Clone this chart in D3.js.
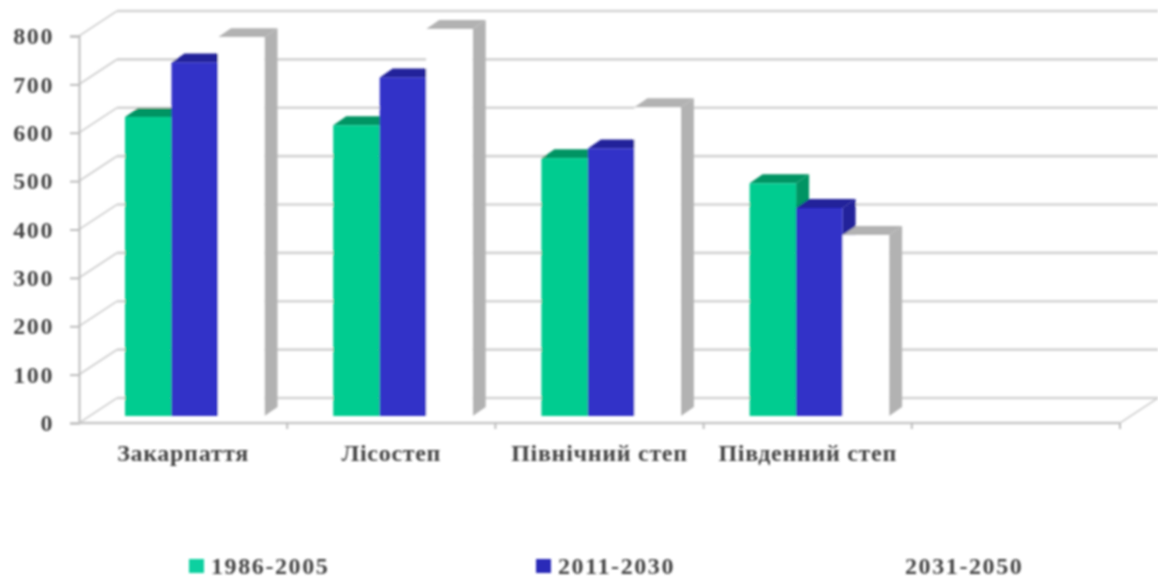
<!DOCTYPE html>
<html><head><meta charset="utf-8">
<script src="https://cdn.jsdelivr.net/npm/d3@7"></script>
<style>html,body{margin:0;background:#fff}svg{display:block}</style></head>
<body><svg id="c" width="1158" height="581"></svg>
<script>
const categories = ["Закарпаття","Лісостеп","Північний степ","Південний степ",""];
const s1986 = [618,601,533,481];
const s2011 = [731,700,553,430];
const s2031 = [783,800,638,374];
const seriesNames = ["1986-2005","2011-2030","2031-2050"];
const yTicks = [0,100,200,300,400,500,600,700,800];
const fronts = ["#00cc90","#3030c8","#ffffff"];
const darks  = ["#009464","#20209a","#b2b2b2"];
const legendColors = ["#10d0a0","#2a2ab8","#ffffff"];

const svg = d3.select("#c");
const defs = svg.append("defs");
defs.append("filter").attr("id","blur").attr("x","-5%").attr("y","-5%").attr("width","110%").attr("height","110%")
  .append("feGaussianBlur").attr("stdDeviation",1);
const root = svg.append("g").attr("filter","url(#blur)");

const y = d3.scaleLinear().domain([0,800]).range([423,36]);
const x = d3.scaleBand().domain(categories).range([79,1120]);
const wall = {dx:38, dy:-25};
const floorBack = 7;              // bar base sits this far above the front axis
const depth = {dx:13, dy:-9};
const barW = 46.5, barInset = 46;
const grid = "#d4d4d4", serif = "'Liberation Serif',serif";

// back wall + side wall gridlines
root.append("g").selectAll("line.back").data(yTicks).join("line")
  .attr("x1",79+wall.dx).attr("x2",1120+wall.dx)
  .attr("y1",d=>y(d)+wall.dy).attr("y2",d=>y(d)+wall.dy)
  .attr("stroke",grid).attr("stroke-width",2.6);
root.append("g").selectAll("line.side").data(yTicks).join("line")
  .attr("x1",79).attr("x2",79+wall.dx)
  .attr("y1",d=>y(d)).attr("y2",d=>y(d)+wall.dy)
  .attr("stroke",grid).attr("stroke-width",2);
root.append("line").attr("x1",1120).attr("y1",y(0)).attr("x2",1120+wall.dx).attr("y2",y(0)+wall.dy)
  .attr("stroke",grid).attr("stroke-width",2);

// axes
const yAxis = d3.axisLeft(y).tickValues(yTicks).tickSize(9).tickPadding(16);
const gy = root.append("g").attr("transform","translate(79,0)").call(yAxis);
gy.selectAll("path,line").attr("stroke","#bdbdbd").attr("stroke-width",2);
gy.selectAll("text").attr("font-family",serif).attr("font-weight","bold").attr("font-size",24)
  .attr("letter-spacing",1.6).attr("fill","#444");

const gx = root.append("g");
gx.append("line").attr("x1",79).attr("x2",1120).attr("y1",y(0)).attr("y2",y(0))
  .attr("stroke","#c8c8c8").attr("stroke-width",2.4);
gx.selectAll("line.t").data(categories.slice(1).concat("end")).join("line")
  .attr("x1",(d,i)=>79+x.step()*(i+1)).attr("x2",(d,i)=>79+x.step()*(i+1))
  .attr("y1",y(0)).attr("y2",y(0)+6).attr("stroke","#bdbdbd").attr("stroke-width",2);
gx.selectAll("text").data(categories).join("text")
  .attr("x",d=>x(d)+x.bandwidth()/2).attr("y",461).attr("text-anchor","middle")
  .attr("font-family",serif).attr("font-weight","bold").attr("font-size",24)
  .attr("letter-spacing",0.7).attr("fill","#444").text(d=>d);

// bars
const base = y(0)-floorBack;
const unit = (y(0)-y(100))/100;
[s1986,s2011,s2031].forEach((vals,si)=>{
  const g = root.append("g");
  vals.forEach((v,ci)=>{
    const x0 = x(categories[ci])+barInset+si*barW, x1 = x0+barW, top = base-v*unit;
    const P = pts=>pts.map(p=>p.join(",")).join(" ");
    g.append("polygon").attr("fill",darks[si])
      .attr("points",P([[x1,top],[x1+depth.dx,top+depth.dy],[x1+depth.dx,base+depth.dy],[x1,base]]));
    g.append("polygon").attr("fill",darks[si])
      .attr("points",P([[x0,top],[x0+depth.dx,top+depth.dy],[x1+depth.dx,top+depth.dy],[x1,top]]));
    g.append("rect").attr("x",x0).attr("y",top).attr("width",barW).attr("height",base-top).attr("fill",fronts[si]);
  });
});

// legend
const legX = d3.scalePoint().domain(seriesNames).range([211,905]);
const lg = root.append("g");
seriesNames.forEach((n,i)=>{
  const tx = legX(n);
  lg.append("rect").attr("x",tx-22).attr("y",559).attr("width",15).attr("height",14).attr("fill",legendColors[i]);
  lg.append("text").attr("x",tx).attr("y",574).attr("font-family",serif).attr("font-weight","bold")
    .attr("font-size",24).attr("letter-spacing",1.6).attr("fill","#444").text(n);
});
</script></body></html>
